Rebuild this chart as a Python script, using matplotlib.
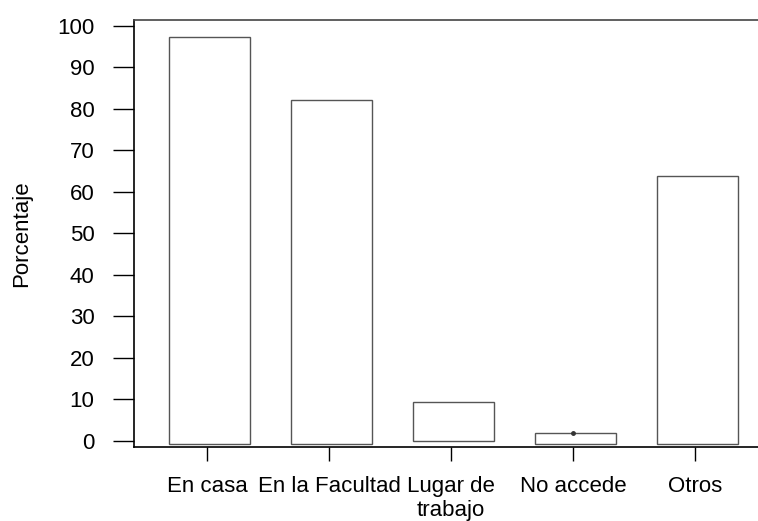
import matplotlib.pyplot as plt
import numpy as np

plt.rcParams['font.family'] = ['Liberation Sans', 'DejaVu Sans']

# data
categories = ['En casa', 'En la Facultad', 'Lugar de\ntrabajo', 'No accede', 'Otros']
bar_top = [97.2, 82.2, 9.2, 1.9, 63.7]
bar_base = [-0.7, -0.7, 0.0, -0.8, -0.9]
y_ticks = [0, 10, 20, 30, 40, 50, 60, 70, 80, 90, 100]

fig = plt.figure(figsize=(7.58, 5.21), dpi=100)
ax = fig.add_axes([0.1768, 0.1415, 0.8232, 0.8201])

x = np.arange(len(categories))
heights = [t - b for t, b in zip(bar_top, bar_base)]
ax.bar(x + 0.02, heights, bottom=bar_base, width=0.66,
       facecolor='white', edgecolor='#555555', linewidth=1.0)

# small mark on top of "No accede"
ax.plot(3, bar_top[3], marker='o', ms=2.5, color='#333333')

ax.set_xlim(-0.598, 4.516)
ax.set_ylim(-1.6, 101.4)
ax.set_xticks(x)
ax.set_xticklabels(categories, fontsize=16, linespacing=1.15, va='top')
ax.set_yticks(y_ticks)
ax.tick_params(axis='y', length=15, width=1, pad=13.5, labelsize=16)
ax.tick_params(axis='x', length=10, width=1, pad=11)
ax.set_ylabel('Porcentaje', fontsize=16, labelpad=18)

ax.spines['right'].set_visible(False)
for s in ['left', 'top', 'bottom']:
    ax.spines[s].set_linewidth(1.2)
ax.spines['top'].set_color('#444444')

fig.savefig('out.png', dpi=100)
